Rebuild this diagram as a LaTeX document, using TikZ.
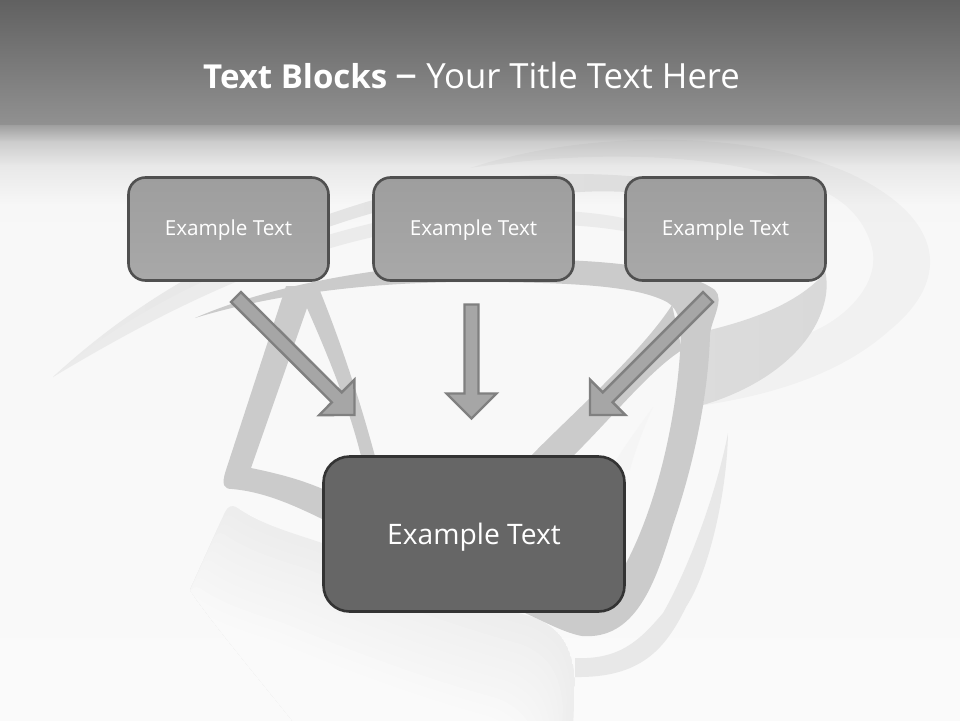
\documentclass[tikz,border=0pt]{standalone}
\usepackage{fontspec}
\setmainfont{Open Sans}
\usetikzlibrary{calc}
\definecolor{bandM}{HTML}{CBCBCB}
\definecolor{boxline}{HTML}{505050}
\tikzset{
  smallbox/.style={draw=boxline,line width=2.6pt,rounded corners=17pt,top color=black!38,bottom color=black!34,
    minimum width=200pt,minimum height=103pt,inner sep=0pt,text=white,font=\fontsize{20.7}{24}\selectfont,
    text height=17.5pt,text depth=4.5pt},
  bigbox/.style={draw=black!80,line width=2.6pt,rounded corners=26pt,fill=black!60,
    minimum width=301pt,minimum height=155pt,inner sep=0pt,text=white,font=\fontsize{28.2}{34}\selectfont,
    text height=27pt,text depth=6pt},
  blockarrowstyle/.style={draw=black!50,line width=2.4pt,fill=black!35,line join=miter},
  titletext/.style={text=white,inner sep=0pt,font=\fontsize{34.7}{40}\selectfont},
  swoosh/.style={fill=bandM,draw=none}
}
\newcommand{\blockarrow}[2]{%
  \coordinate (hb) at ($(#2)!25pt!(#1)$);
  \draw[blockarrowstyle]
    ($(#1)!7pt!90:(#2)$) -- ($(hb)!7pt!90:(#2)$) -- ($(hb)!25pt!90:(#2)$) -- (#2)
    -- ($(hb)!25pt!-90:(#2)$) -- ($(hb)!7pt!-90:(#2)$) -- ($(#1)!7pt!-90:(#2)$) -- cycle;}
\newcommand{\lowershape}{(236,507) .. controls (262,525) and (290,532) .. (322,543)
    .. controls (400,575) and (470,600) .. (533,617) .. controls (560,628) and (572,645) .. (575,680)
    -- (573,730) -- (300,730) .. controls (260,680) and (210,620) .. (190,590) -- (225,512)
    .. controls (228,506) and (232,505) .. (236,507) -- cycle}
\newcommand{\sweepshape}{(470,168) .. controls (600,125) and (790,130) .. (880,190)
  .. controls (945,232) and (945,285) .. (890,330) .. controls (840,375) and (770,395) .. (705,405)
  -- (712,330) .. controls (780,370) and (880,310) .. (873,253) .. controls (868,225) and (850,205) .. (827,193)
  .. controls (730,150) and (590,150) .. (470,168) -- cycle}
\begin{document}
\begin{tikzpicture}[x=1pt,y=-1pt]
\useasboundingbox (0,0) rectangle (960,720);
% background
\shade[top color=black!3,bottom color=black!2] (0,190) rectangle (960,720);
% header
\shade[top color=black!62,bottom color=black!43] (0,0) rectangle (960,126);
\shade[top color=black!37,bottom color=black!20] (0,125.5) rectangle (960,142);
\shade[top color=black!20,bottom color=black!9] (0,141.5) rectangle (960,166);
\shade[top color=black!9,bottom color=black!3] (0,165.5) rectangle (960,206);
% lower pale shape
\begin{scope}
  \clip \lowershape;
  \foreach \i in {0,...,11} {
    \pgfmathsetmacro{\g}{7-0.45*\i}
    \fill[black!\g,shift={(-4*\i,9*\i)}] \lowershape;
  }
\end{scope}
% large pale sweep
\fill[black,opacity=0.028] \sweepshape;
% upper long band
\shade[left color=black!8,right color=black!15] (53,377)
  .. controls (120,315) and (220,245) .. (373,200) .. controls (480,170) and (620,165) .. (720,190)
  .. controls (800,210) and (835,255) .. (825,300) .. controls (815,345) and (770,385) .. (703,405)
  -- (710,330) .. controls (750,320) and (795,305) .. (823,275) .. controls (820,235) and (700,185) .. (580,192)
  .. controls (480,195) and (420,200) .. (373,213) .. controls (240,250) and (130,325) .. (53,377) -- cycle;
% lower long band
\fill[black!8] (53,377) .. controls (130,310) and (240,255) .. (373,223)
  .. controls (450,208) and (560,205) .. (623,218) .. controls (660,225) and (700,240) .. (730,265)
  .. controls (690,250) and (660,238) .. (623,231) .. controls (560,220) and (460,222) .. (373,237)
  .. controls (250,265) and (140,325) .. (53,377) -- cycle;
% pale right thin swoosh
\fill[black!9] (728,433) .. controls (727,490) and (710,570) .. (686,607)
  .. controls (665,650) and (640,678) .. (575,677) -- (575,658)
  .. controls (620,660) and (640,640) .. (663,613) .. controls (685,575) and (715,500) .. (728,433) -- cycle;
\fill[black!4] (653,407) .. controls (640,425) and (625,445) .. (610,470) -- (630,470)
  .. controls (635,450) and (645,425) .. (653,407) -- cycle;
% main frame
\fill[swoosh] (286,286) -- (226,470) .. controls (221,485) and (224,489) .. (232,489)
  .. controls (265,492) and (295,505) .. (340,528) -- (340,497)
  .. controls (310,482) and (285,475) .. (251,468) -- (307,308) -- (312,286) -- cycle;
\fill[swoosh] (307,308) .. controls (330,360) and (350,410) .. (362,460) -- (376,460)
  .. controls (360,400) and (340,340) .. (318,286) -- (305,286) -- cycle;
\fill[swoosh] (195,318) .. controls (270,285) and (400,258) .. (560,260)
  .. controls (630,262) and (690,272) .. (715,290) .. controls (725,300) and (711,320) .. (710,335)
  .. controls (708,400) and (692,470) .. (673,525) .. controls (655,585) and (635,640) .. (582,636)
  .. controls (565,633) and (545,622) .. (525,613) -- (560,560) -- (624,567)
  .. controls (650,520) and (674,440) .. (680,353)
  .. controls (682,325) and (680,310) .. (667,302)
  .. controls (640,288) and (590,282) .. (470,282)
  .. controls (380,282) and (280,292) .. (195,318) -- cycle;
\fill[swoosh] (529,458) .. controls (560,425) and (640,355) .. (672,305) -- (682,350)
  .. controls (650,370) and (610,420) .. (571,458) -- cycle;
% title
\node[titletext,anchor=base west] (title) at (203,88) {{\fontsize{33}{40}\selectfont\textbf{Text Blocks}}\hspace{8pt}{\fontsize{44}{40}\selectfont –}\hspace{9pt}Your Title Text Here};
% boxes
\node[smallbox] (b1) at (228.5,229) {Example Text};
\node[smallbox] (b2) at (473.5,229) {Example Text};
\node[smallbox] (b3) at (725.5,229) {Example Text};
\node[bigbox] (big) at (474,534) {Example Text};
% block arrows
\coordinate (s1) at (236,297);
\coordinate (t1) at (354.5,415);
\coordinate (s2) at (471.5,304.5);
\coordinate (t2) at (471.5,418.5);
\coordinate (s3) at (708,297);
\coordinate (t3) at (590,415);
\blockarrow{s1}{t1}
\blockarrow{s2}{t2}
\blockarrow{s3}{t3}
\end{tikzpicture}
\end{document}
